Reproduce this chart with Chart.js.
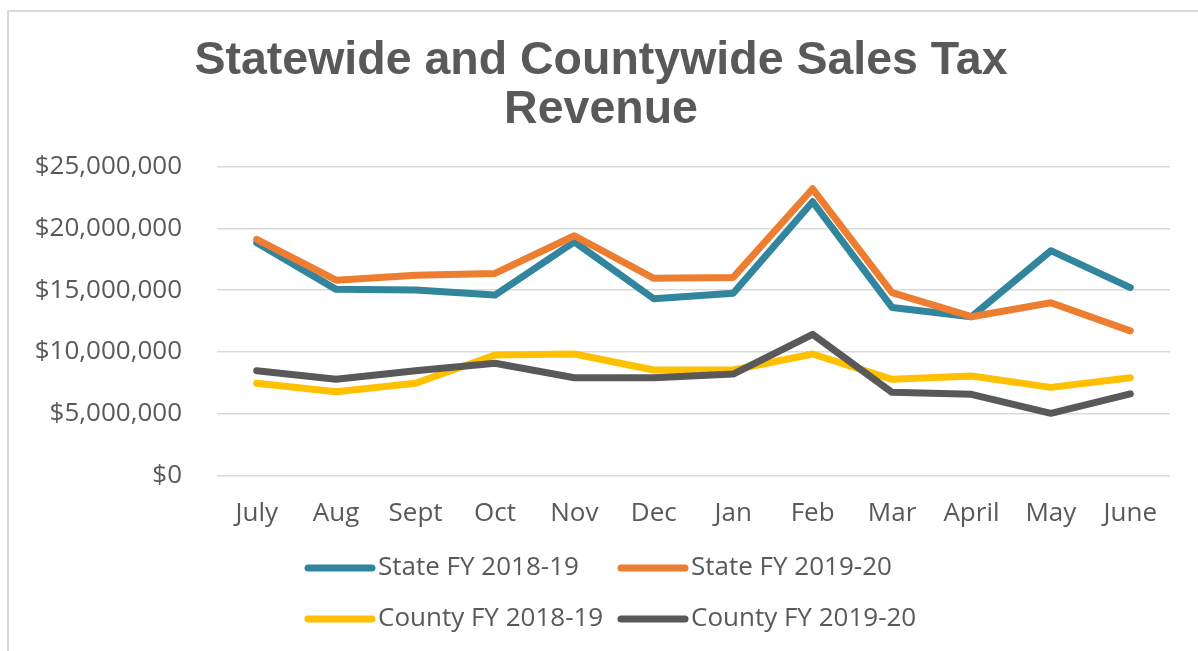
<!DOCTYPE html>
<html>
<head>
<meta charset="utf-8">
<script src="https://cdn.jsdelivr.net/npm/chart.js@4"></script>
<style>
  body { margin: 0; background: #fff; }
  #wrap { position: relative; width: 1198px; height: 651px; }
  #frame { position: absolute; left: 7px; top: 10px; right: 0; bottom: 0;
           border-top: 2px solid #d9d9d9; border-left: 2px solid #d9d9d9; pointer-events: none; }
</style>
</head>
<body>
<div id="wrap">
  <canvas id="myChart" width="1198" height="651"></canvas>
  <div id="frame"></div>
</div>
<script>
// months of the fiscal year
var months = ["July", "Aug", "Sept", "Oct", "Nov", "Dec", "Jan", "Feb", "Mar", "April", "May", "June"];

// revenue per month
var stateFY1819 = [18830000, 15060000, 15000000, 14600000, 18900000, 14300000, 14740000, 22150000, 13600000, 12850000, 18190000, 15200000];
var stateFY1920 = [19100000, 15800000, 16200000, 16350000, 19400000, 15950000, 16030000, 23200000, 14800000, 12850000, 13980000, 11700000];
var countyFY1819 = [7460000, 6780000, 7460000, 9750000, 9830000, 8540000, 8540000, 9830000, 7780000, 8050000, 7130000, 7910000];
var countyFY1920 = [8480000, 7780000, 8480000, 9080000, 7910000, 7910000, 8210000, 11420000, 6730000, 6570000, 5030000, 6600000];

var seriesNames = ["State FY 2018-19", "State FY 2019-20", "County FY 2018-19", "County FY 2019-20"];
var seriesColors = ["#31859c", "#ed7d31", "#ffc000", "#595959"];

var textColor = "#595959";
var fontName = "'Open Sans', sans-serif";

// legend in a 2x2 grid like the excel one
var gridLegend = {
  id: "gridLegend",
  afterDraw: function (chart) {
    var ctx = chart.ctx;
    var colX = [305, 618];
    var rowY = [568, 619];
    ctx.save();
    ctx.font = "26px " + fontName;
    ctx.textBaseline = "middle";
    ctx.textAlign = "left";
    chart.data.datasets.forEach(function (ds, i) {
      var x = colX[i % 2];
      var y = rowY[Math.floor(i / 2)];
      ctx.strokeStyle = ds.borderColor;
      ctx.lineWidth = 7;
      ctx.lineCap = "round";
      ctx.beginPath();
      ctx.moveTo(x + 3, y);
      ctx.lineTo(x + 67, y);
      ctx.stroke();
      ctx.fillStyle = textColor;
      ctx.fillText(ds.label, x + 73, y);
    });
    ctx.restore();
  }
};

var allSeries = [stateFY1819, stateFY1920, countyFY1819, countyFY1920];
var datasets = [];
for (var i = 0; i < allSeries.length; i++) {
  datasets.push({
    label: seriesNames[i],
    data: allSeries[i],
    borderColor: seriesColors[i],
    backgroundColor: seriesColors[i],
    borderWidth: 7,
    borderCapStyle: "round",
    borderJoinStyle: "round",
    pointRadius: 0,
    tension: 0,
    order: allSeries.length - i
  });
}

var ctx = document.getElementById("myChart").getContext("2d");
var chart = new Chart(ctx, {
  type: "line",
  data: { labels: months, datasets: datasets },
  plugins: [gridLegend],
  options: {
    responsive: false,
    animation: false,
    // left padding nudges the title centre; y axis width below keeps the plot at x=217
    layout: { padding: { left: 32, right: 28, top: 36.5, bottom: 120.5 } },
    plugins: {
      legend: { display: false },
      tooltip: { enabled: false },
      title: {
        display: true,
        text: ["Statewide and Countywide Sales Tax", "Revenue"],
        color: textColor,
        font: { family: "'Liberation Sans', Arial, sans-serif", size: 46.5, weight: "bold", lineHeight: 1.054 },
        padding: { top: 0, bottom: 32 }
      }
    },
    scales: {
      x: {
        offset: true,
        grid: { display: false, drawTicks: false },
        border: { display: false },
        ticks: { color: textColor, font: { family: fontName, size: 26 }, padding: 22, maxRotation: 0 },
        afterFit: function (scale) { scale.height = 55; }
      },
      y: {
        min: 0,
        max: 25000000,
        grid: { color: "#d9d9d9", lineWidth: 1.5, drawTicks: false },
        border: { display: false },
        ticks: {
          stepSize: 5000000,
          color: textColor,
          font: { family: fontName, size: 26 },
          padding: 35,
          callback: function (v) { return "$" + v.toLocaleString("en-US"); }
        },
        afterFit: function (scale) { scale.width = 185; }
      }
    }
  }
});
</script>
</body>
</html>
